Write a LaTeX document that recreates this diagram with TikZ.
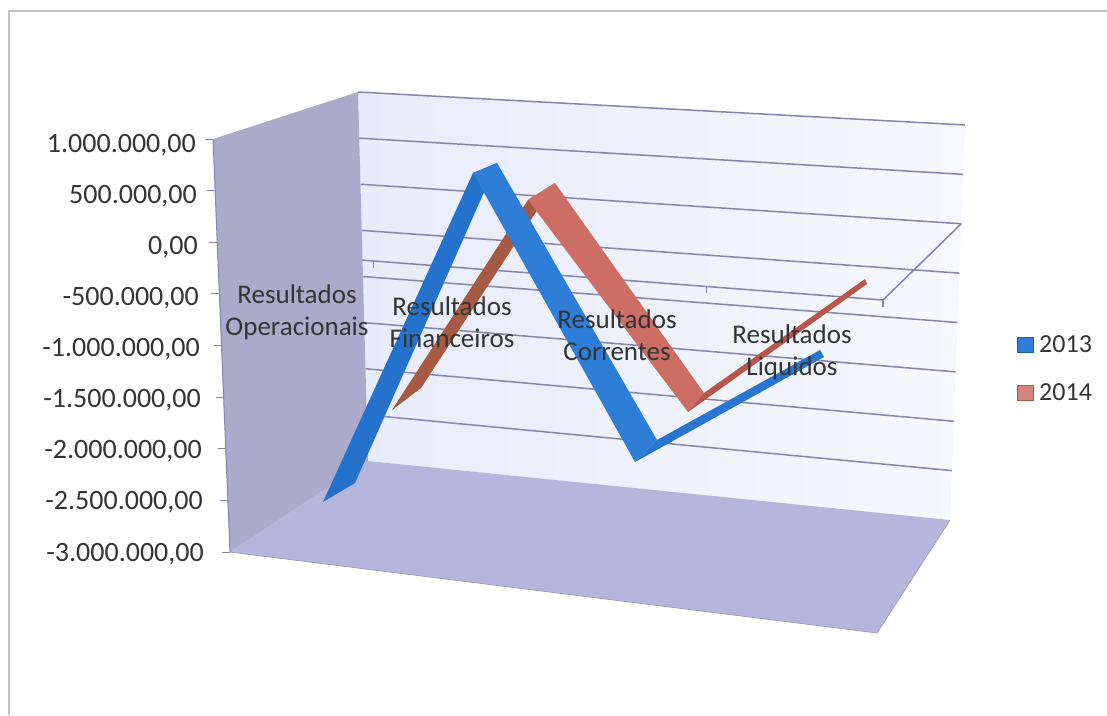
\documentclass[tikz,border=0pt]{standalone}
\usepackage{fontspec}
\setmainfont{Carlito}
\usepackage{tikz}
\usetikzlibrary{calc}

\definecolor{wallc}{RGB}{172,170,203}
\definecolor{floorc}{RGB}{180,182,219}
\definecolor{backl}{RGB}{232,235,249}
\definecolor{backr}{RGB}{246,248,253}
\definecolor{gridc}{RGB}{132,132,176}
\definecolor{framec}{RGB}{192,194,204}
\definecolor{txtc}{RGB}{52,52,52}
\definecolor{bluerise}{RGB}{36,114,204}
\definecolor{bluefall}{RGB}{46,126,216}
\definecolor{bluelast}{RGB}{40,118,208}
\definecolor{redrise}{RGB}{166,90,66}
\definecolor{redfall}{RGB}{204,110,100}
\definecolor{redlast}{RGB}{184,86,74}

\begin{document}
\begin{tikzpicture}[x=1pt,y=-1pt,font=\fontsize{27}{32}\selectfont,
		gridln/.style={gridc,line width=1.5pt},
		ylab/.style={anchor=base east,inner sep=0pt,text=txtc,font=\fontsize{28}{32}\selectfont},
		catlab/.style={anchor=north,align=center,inner sep=0pt,text=txtc},
		legkey/.style={minimum width=16pt,minimum height=15pt,inner sep=0pt,draw,line width=0.8pt}]
		\useasboundingbox (0,0) rectangle (1107,715);

		% walls and floor
		\coordinate (lwt) at (213,139);
		\coordinate (lwb) at (230,552);
		\coordinate (bwtl) at (358,92);
		\coordinate (bwbl) at (368,461);
		\coordinate (bwtr) at (965,125);
		\coordinate (bwbr) at (950,520);
		\coordinate (flr) at (877,633);

		\shade[left color=backl,right color=backr] (bwtl) -- (bwtr) -- (bwbr) -- (bwbl) -- cycle;
		\foreach \k in {0,...,7}
			\draw[gridln] ($(bwtl)!\k/8!(bwbl)$) -- ($(bwtr)!\k/8!(bwbr)$);
		\fill[floorc] (lwb) -- (bwbl) -- (bwbr) -- (flr) -- cycle;
		\draw[gridc!80,line width=0.8pt] (lwb) -- (flr) -- (bwbr);

		% plane at 0
		\coordinate (pfl) at (217,249);
		\coordinate (pfr) at (883,300);
		\coordinate (pbr) at ($(bwtr)!2/8!(bwbr)$);
		\draw[gridln] (pfl) -- (pfr) -- (pbr);
		\foreach \f in {0.235,0.485,0.735,1}
			\draw[gridln] ($(pfl)!\f!(pfr)$) -- ++(0,7);

		\fill[wallc] (lwt) -- (bwtl) -- (bwbl) -- (lwb) -- cycle;
		\draw[gridc,line width=1pt] (lwt) -- (lwb);

		% value axis
		\foreach \v [count=\k from 0] in {{1.000.000,00},{500.000,00},{0,00},{-500.000,00},{-1.000.000,00},{-1.500.000,00},{-2.000.000,00},{-2.500.000,00},{-3.000.000,00}}{
			\draw[gridc,line width=1pt] ($(lwt)!\k/8!(lwb)$) -- ++(-8,0);
			\node[ylab] (yl\k) at ($(196,152)!\k/8!(204,561)$) {\v};
		}

		% 2014
		\coordinate (r0f) at (392,410);
		\coordinate (r0b) at (421,388);
		\coordinate (r1f) at (528,200);
		\coordinate (r1b) at (555,183);
		\coordinate (r2f) at (688,412);
		\coordinate (r2b) at (704,393);
		\coordinate (r3f) at (867,284);
		\coordinate (r3b) at (865,279);
		\fill[redrise] (r0f) -- (r1f) -- (r1b) -- (r0b) -- cycle;
		\fill[redfall] (r1f) -- (r2f) -- (r2b) -- (r1b) -- cycle;
		\fill[redlast] (r2f) -- (r3f) -- (r3b) -- (r2b) -- cycle;

		% 2013
		\coordinate (b0f) at (323,502);
		\coordinate (b0b) at (355,483);
		\coordinate (b1f) at (473,173);
		\coordinate (b1b) at (497,163);
		\coordinate (b2f) at (635,462);
		\coordinate (b2b) at (657,440);
		\coordinate (b3f) at (824,357);
		\coordinate (b3b) at (820,350);
		\fill[bluerise] (b0f) -- (b1f) -- (b1b) -- (b0b) -- cycle;
		\fill[bluefall] (b1f) -- (b2f) -- (b2b) -- (b1b) -- cycle;
		\fill[bluelast] (b2f) -- (b3f) -- (b3b) -- (b2b) -- cycle;

		% categories
		\node[catlab] (oper) at (297,285) {Resultados\\Operacionais};
		\node[catlab] (fin) at (452,297) {Resultados\\Financeiros};
		\node[catlab] (corr) at (617,310) {Resultados\\Correntes};
		\node[catlab] (liq) at (792,325) {Resultados\\Liquidos};

		% legend
		\node[legkey,fill=bluefall,draw=bluerise!80!black] (k13) at (1025,344.5) {};
		\node[anchor=base west,inner sep=0pt,text=txtc,font=\fontsize{26}{32}\selectfont] (t13) at (1039,352) {2013};
		\node[legkey,fill=redfall!85!white,draw=redfall!80!black] (k14) at (1025,392.5) {};
		\node[anchor=base west,inner sep=0pt,text=txtc,font=\fontsize{26}{32}\selectfont] (t14) at (1039,400) {2014};

		\draw[framec,line width=1.3pt] (9,715) -- (9,11) -- (1107,11);
	\end{tikzpicture}
\end{document}
